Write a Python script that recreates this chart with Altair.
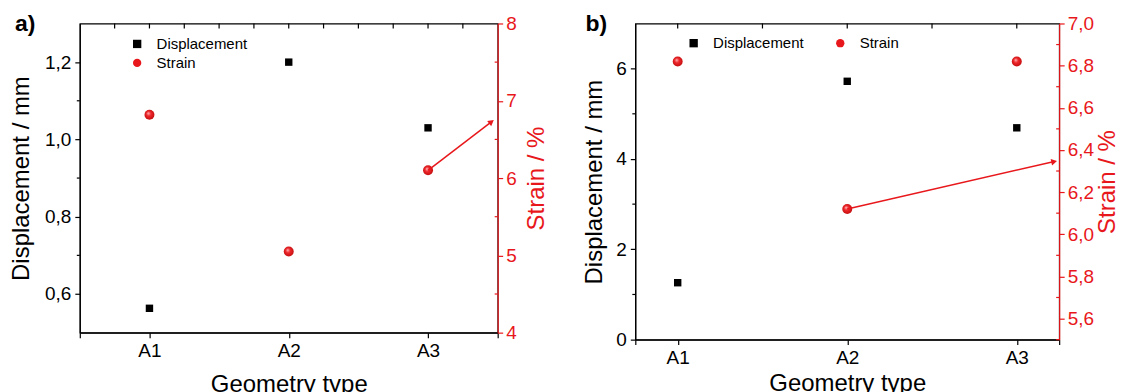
import altair as alt
import pandas as pd

# ---------------- data ----------------
categories = ["A1", "A2", "A3"]
series_names = ["Displacement", "Strain"]

a_displacement = [0.563, 1.20, 1.03]
a_strain = [6.82, 5.05, 6.10]
b_displacement = [1.26, 5.72, 4.69]
b_strain = [6.82, 6.12, 6.82]

# arrow annotations (x in category-position units, y in strain units)
a_arrow_x = [3.0, 3.45]
a_arrow_y = [6.10, 6.72]
b_arrow_x = [2.0, 3.215]
b_arrow_y = [6.12, 6.344]

# axis tick values
a_x_ticks = [0.5, 1, 2, 3, 3.5]
a_top_ticks = [0.75, 1.0, 1.25, 1.5, 1.75, 2.0, 2.25, 2.5, 2.75, 3.0, 3.25]
a_disp_major = [0.6, 0.8, 1.0, 1.2]
a_disp_minor = [0.7, 0.9, 1.1]
a_strain_major = [4, 5, 6, 7, 8]
a_strain_minor = [4.5, 5.5, 6.5, 7.5]

b_x_ticks = [0.75, 1, 2, 3, 3.25]
b_top_ticks = [1.0, 1.5, 2.0, 2.5, 3.0]
b_disp_major = [0, 2, 4, 6]
b_disp_minor = [1, 3, 5]
b_strain_major = [5.6, 5.8, 6.0, 6.2, 6.4, 6.6, 6.8, 7.0]
b_strain_minor = [5.5, 5.7, 5.9, 6.1, 6.3, 6.5, 6.7, 6.9]

RED = "#e8171b"
FONT = "Liberation Sans"
TICK_FS = 19
TITLE_FS = 24

SPHERE = alt.RadialGradient(
    gradient="radial", x1=0.38, y1=0.35, r1=0.0, x2=0.5, y2=0.5, r2=0.62,
    stops=[alt.GradientStop(offset=0, color="#ffc8c8"),
           alt.GradientStop(offset=0.35, color="#f0282c"),
           alt.GradientStop(offset=1, color="#b80808")],
)


def x_label_expr():
    parts = [f"datum.value == {i + 1} ? '{c}'" for i, c in enumerate(categories)]
    return " : ".join(parts) + " : ''"


def panel(label, label_dx, disp, strain, xdom, x_ticks, top_ticks, ydisp, disp_major, disp_minor,
          disp_fmt, ystrain, strain_major, strain_minor, strain_fmt,
          arrow_x, arrow_y, arrow_angle, W, H, legend, left_tp, right_tp, bottom_tp):
    pos = [i + 1 for i in range(len(categories))]
    df_d = pd.DataFrame({"pos": pos, "cat": categories, "value": disp, "series": series_names[0]})
    df_s = pd.DataFrame({"pos": pos, "cat": categories, "value": strain, "series": series_names[1]})
    df_arrow = pd.DataFrame({"pos": [arrow_x[0]], "value": [arrow_y[0]],
                             "pos2": [arrow_x[1]], "value2": [arrow_y[1]]})
    df_head = pd.DataFrame({"pos": [arrow_x[1]], "value": [arrow_y[1]]})
    df_top = pd.DataFrame({"pos": top_ticks})
    df_dminor = pd.DataFrame({"value": disp_minor})
    df_sminor = pd.DataFrame({"value": strain_minor})
    df_label = pd.DataFrame({"label": [label]})

    xscale = alt.Scale(domain=xdom, nice=False, zero=False)
    dscale = alt.Scale(domain=ydisp, nice=False, zero=False)
    sscale = alt.Scale(domain=ystrain, nice=False, zero=False)

    xaxis = alt.Axis(values=x_ticks, labelExpr=x_label_expr(), title="Geometry type",
                     grid=False, tickSize=5, labelPadding=4, titlePadding=bottom_tp,
                     labelFontSize=TICK_FS, titleFontSize=TITLE_FS)

    color = alt.Color("series:N", scale=alt.Scale(domain=series_names, range=["black", RED]),
                      legend=legend)
    shape = alt.Shape("series:N", scale=alt.Scale(domain=series_names, range=["square", "circle"]),
                      legend=legend)

    disp_pts = alt.Chart(df_d).mark_point(filled=True, size=55, opacity=1).encode(
        x=alt.X("pos:Q", scale=xscale, axis=xaxis),
        y=alt.Y("value:Q", scale=dscale,
                axis=alt.Axis(values=disp_major, orient="left", title="Displacement / mm",
                              labelExpr=f"replace(format(datum.value, '{disp_fmt}'), '.', ',')",
                              grid=False, tickSize=5, labelPadding=4, titlePadding=left_tp,
                              labelFontSize=TICK_FS, titleFontSize=TITLE_FS)),
        color=color, shape=shape,
    )
    disp_minor_r = alt.Chart(df_dminor).mark_rule(color="black", strokeWidth=1.2).encode(
        y=alt.Y("value:Q", scale=dscale), x=alt.value(0), x2=alt.value(-3))
    top_r = alt.Chart(df_top).mark_rule(color="black", strokeWidth=1.2).encode(
        x=alt.X("pos:Q", scale=xscale), y=alt.value(0), y2=alt.value(5))
    panel_label = alt.Chart(df_label).mark_text(
        align="left", baseline="alphabetic", fontSize=23, fontWeight="bold", font=FONT,
        color="black").encode(text="label:N", x=alt.value(label_dx), y=alt.value(8))

    left = alt.layer(disp_pts, disp_minor_r, top_r, panel_label)

    strain_pts = alt.Chart(df_s).mark_point(filled=True, size=100, opacity=1,
                                            fill=SPHERE, strokeWidth=0).encode(
        x=alt.X("pos:Q", scale=xscale),
        y=alt.Y("value:Q", scale=sscale,
                axis=alt.Axis(values=strain_major, orient="right", title="Strain / %",
                              labelExpr=f"replace(format(datum.value, '{strain_fmt}'), '.', ',')",
                              grid=False, tickSize=5, labelPadding=3, titlePadding=right_tp,
                              titleAngle=270, titleBaseline="top",
                              labelFontSize=TICK_FS, titleFontSize=TITLE_FS,
                              domainColor=RED, tickColor=RED, labelColor=RED, titleColor=RED)),
        shape=shape,
    )
    arrow_line = alt.Chart(df_arrow).mark_rule(color=RED, strokeWidth=1.5).encode(
        x=alt.X("pos:Q", scale=xscale), x2="pos2:Q",
        y=alt.Y("value:Q", scale=sscale), y2="value2:Q")
    arrow_head = alt.Chart(df_head).mark_point(shape="triangle", filled=True, color=RED,
                                               size=45, angle=arrow_angle, opacity=1).encode(
        x=alt.X("pos:Q", scale=xscale), y=alt.Y("value:Q", scale=sscale))
    strain_minor_r = alt.Chart(df_sminor).mark_rule(color=RED, strokeWidth=1.2).encode(
        y=alt.Y("value:Q", scale=sscale), x=alt.value(W), x2=alt.value(W - 3))

    right = alt.layer(strain_pts, arrow_line, arrow_head, strain_minor_r)

    return alt.layer(left, right).resolve_scale(y="independent").properties(width=W, height=H)


legend_a = alt.Legend(orient="none", legendX=50, legendY=13, title=None, direction="vertical",
                      labelFontSize=15, symbolSize=70, labelOffset=12, rowPadding=3,
                      padding=0, symbolStrokeWidth=0, labelFont=FONT)
legend_b = alt.Legend(orient="none", legendX=51, legendY=12, title=None, direction="horizontal",
                      labelFontSize=15, symbolSize=70, labelOffset=12, columnPadding=29,
                      padding=0, symbolStrokeWidth=0, labelFont=FONT)

pa = panel("a)", -65, a_displacement, a_strain, [0.5, 3.5], a_x_ticks, a_top_ticks,
           [0.5, 1.3], a_disp_major, a_disp_minor, ".1f",
           [4, 8], a_strain_major, a_strain_minor, "d",
           a_arrow_x, a_arrow_y, 53, 419, 310, legend_a, 11, 8, 12)
pb = panel("b)", -50, b_displacement, b_strain, [0.75, 3.25], b_x_ticks, b_top_ticks,
           [0, 7], b_disp_major, b_disp_minor, "d",
           [5.5, 7.0], b_strain_major, b_strain_minor, ".1f",
           b_arrow_x, b_arrow_y, 78, 425, 317, legend_b, 9, 2, 4)

chart = alt.hconcat(pa, pb, spacing=32).resolve_scale(
    color="independent", shape="independent"
).resolve_legend(color="independent", shape="independent").properties(
    padding={"left": 0, "top": 4, "right": 0, "bottom": 0}
).configure(
    font=FONT,
).configure_axis(
    labelFont=FONT, titleFont=FONT, titleFontWeight="normal", labelColor="black",
    titleColor="black", domainColor="black", tickColor="black", domainWidth=1.2, tickWidth=1.2,
).configure_view(
    stroke="black", strokeWidth=1.2,
)

chart.save("out.html", embed_options={"renderer": "svg", "actions": False})
